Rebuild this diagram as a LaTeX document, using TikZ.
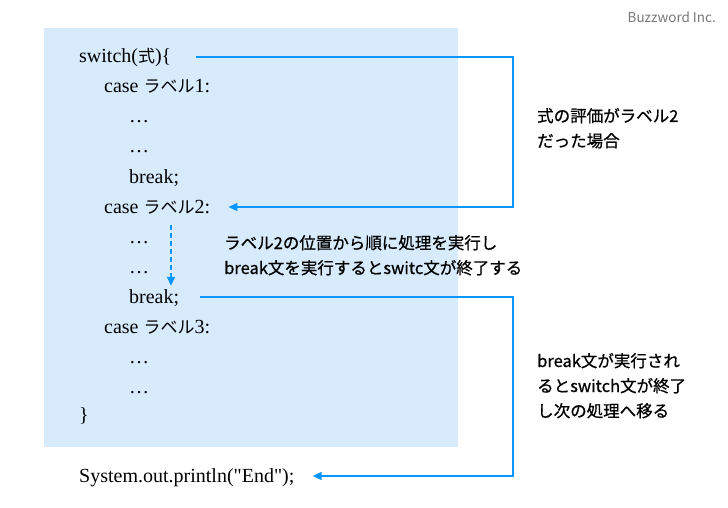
\documentclass[tikz,border=0pt]{standalone}
\usepackage{fontspec}
\newfontfamily\codefont{Liberation Serif}
\newfontfamily\cjk{Noto Sans CJK JP}
\newfontfamily\cjknote{Noto Sans CJK JP}[FakeBold=0.8]
\newfontfamily\cjkcode{Noto Sans CJK JP}[Scale=0.85]
\usetikzlibrary{positioning,arrows.meta}

\definecolor{codebg}{RGB}{215,235,252}
\definecolor{flowblue}{RGB}{10,150,255}
\definecolor{logogray}{RGB}{120,120,120}

\newcommand{\jp}[1]{{\cjkcode #1}}

\tikzset{
  codeline/.style={anchor=base west,inner sep=0pt,text height=15pt,text depth=3pt,
    font=\codefont\fontsize{20}{24}\selectfont},
  note/.style={anchor=base west,inner sep=0pt,align=left,
    font=\cjknote\fontsize{16.5}{25}\selectfont},
  flow/.style={draw=flowblue,line width=1.6pt,-{Triangle[length=9pt,width=8pt]}},
  dashflow/.style={flow,dash pattern=on 5pt off 3pt}
}

\begin{document}
\begin{tikzpicture}[x=1pt,y=-1pt]
  \useasboundingbox (0,0) rectangle (728,508);

  % code area
  \fill[codebg] (44,28) rectangle (458,447);

  \node[codeline] (sw) at (79,63) {switch(\jp{式})\{};
  \node[codeline] (c1) at (104,93) {case \jp{ラベル}1:};
  \node[codeline] (d1a) at (129,123) {…};
  \node[codeline] (d1b) at (129,153) {…};
  \node[codeline] (b1) at (129,183) {break;};
  \node[codeline] (c2) at (104,213) {case \jp{ラベル}2:};
  \node[codeline] (d2a) at (129,243) {…};
  \node[codeline] (d2b) at (129,273) {…};
  \node[codeline] (b2) at (129,303) {break;};
  \node[codeline] (c3) at (104,333) {case \jp{ラベル}3:};
  \node[codeline] (d3a) at (129,363) {…};
  \node[codeline] (d3b) at (129,393) {…};
  \node[codeline] (close) at (79,421) {\}};
  \node[codeline] (sysout) at (79,482) {System.out.println("End");};

  % notes (placed at the baseline of their last line)
  \node[note] (match) at (537,147) {式の評価がラベル2\\だった場合};
  \node[note] (flowon) at (224,274) {ラベル2の位置から順に処理を実行し\\break文を実行するとswitc文が終了する};
  \node[note] (leave) at (537,417) {break文が実行され\\るとswitch文が終了\\し次の処理へ移る};
  \node[anchor=base east,inner sep=0pt,text=logogray,font=\cjk\fontsize{13.5}{16}\selectfont]
    (logo) at (716,23) {Buzzword Inc.};

  % arrows
  \coordinate (rt) at (513,0);
  \draw[flow] ([xshift=24pt]sw.east) -- (sw.east -| rt) |- ([xshift=18pt]c2.east);
  \draw[dashflow] ([shift={(67pt,-9pt)}]c2.south west) -- ([shift={(42pt,2pt)}]b2.north west);
  \draw[flow] ([xshift=21pt]b2.east) -- (b2.east -| rt) |- ([xshift=18pt]sysout.east);
\end{tikzpicture}
\end{document}
